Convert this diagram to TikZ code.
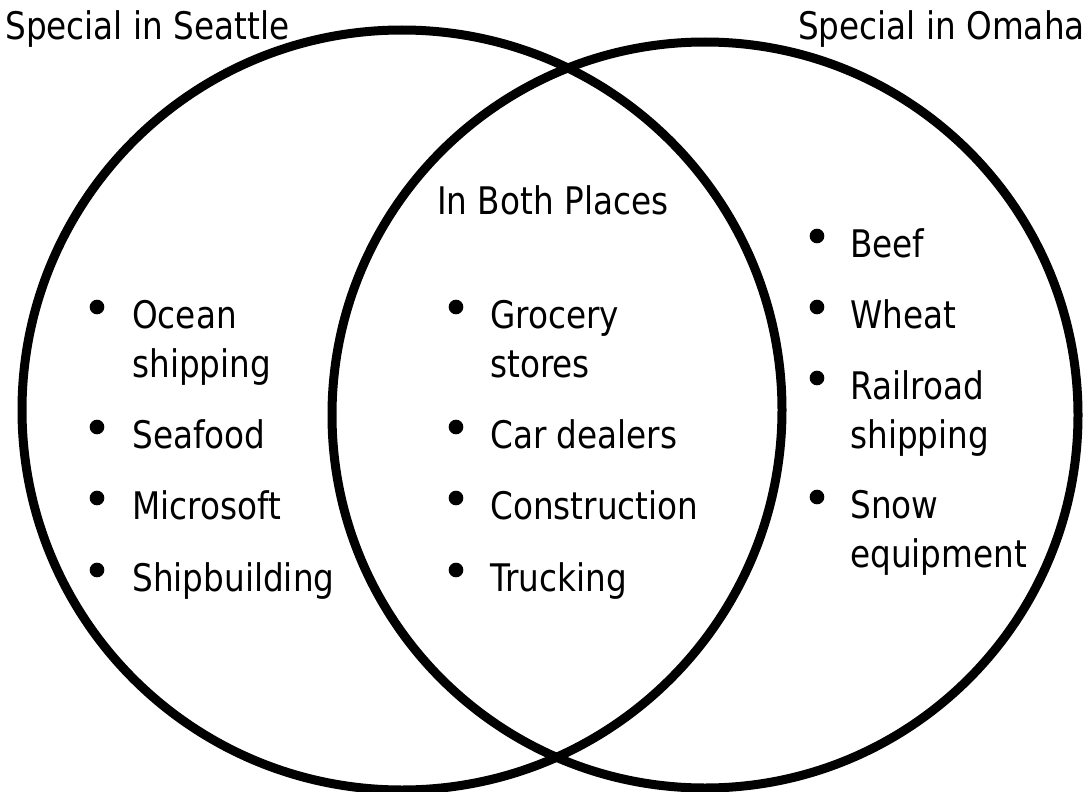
\documentclass[tikz,border=0pt]{standalone}
\usepackage{fontspec}
\setmainfont{DejaVu Sans}[FakeStretch=0.86]
\usetikzlibrary{positioning}
\tikzset{
  ring/.style = {draw = black, line width = 6.75pt},
  dot/.style = {fill = black, circle, minimum size = 11pt, inner sep = 0pt},
  item/.style = {anchor = base west, inner sep = 0pt, font = \fontsize{28.5}{34}\selectfont},
}

\begin{document}
\begin{tikzpicture}[x=0.75pt,y=-0.75pt]
  \useasboundingbox (0,0) rectangle (1089,792);
% circles
  \draw[ring] (402,410) circle [radius=380];
  \draw[ring] (705,415) circle [radius=373];
% titles
  \node[item] (seattle) at (5,40) {Special in Seattle};
  \node[item, anchor=base east] (omaha) at (1085,40) {Special in Omaha};
  \node[item] (both) at (437,214) {In Both Places};
% bullets
  \foreach \yi in {307,427,498,570}{
    \node[dot] (ld\yi) at (97,\yi){};
    \node[dot] (md\yi) at (456,\yi){};
  }
  \foreach \yi in {236,307,378,497}{
    \node[dot] (rd\yi) at (817,\yi){};
  }
% items
  \foreach \m/\yi in {Ocean/328,shipping/377,Seafood/448,Microsoft/519,Shipbuilding/591}{
    \node[item] (l\yi) at (132,\yi) {\m};
  }
  \foreach \m/\yi in {Grocery/328,stores/377,Car dealers/448,Construction/519,Trucking/591}{
    \node[item] (m\yi) at (490,\yi) {\m};
  }
  \foreach \m/\yi in {Beef/257,Wheat/328,Railroad/399,shipping/448,Snow/518,equipment/567}{
    \node[item] (r\yi) at (850,\yi) {\m};
  }
\end{tikzpicture}
\end{document}
